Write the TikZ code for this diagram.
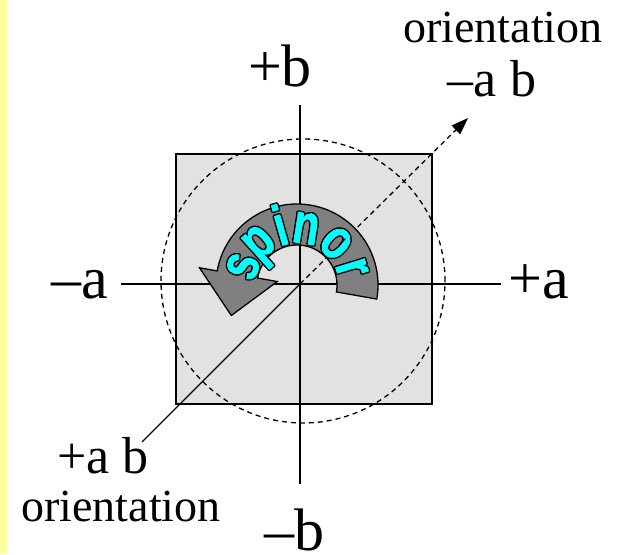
\documentclass[tikz,border=0pt]{standalone}
\usepackage{fontspec}
\setmainfont{Liberation Serif}
\newfontfamily\timesf{Liberation Serif}
\newfontfamily\spinfont{Liberation Sans}[BoldFeatures={FakeBold=1.5}]
\usetikzlibrary{arrows.meta,calc}
\definecolor{stripyellow}{RGB}{255,255,153}
\definecolor{boxgray}{RGB}{226,226,226}
\definecolor{ringgray}{RGB}{128,128,128}
\definecolor{spincyan}{RGB}{0,255,255}
\newcommand{\spinletter}[3]{%
  \foreach \dx/\dy [count=\k] in {1.4/0,-1.4/0,0/1.4,0/-1.4,1/1,-1/1,1/-1,-1/-1}{
    \node[rotate=#2-90, spinl, text=black] (#1k\k) at ($(RC)+(#2:42)+(\dx,\dy)$) {#3};
  }
  \node[rotate=#2-90, spinl, text=spincyan] (#1) at ($(RC)+(#2:42)$) {#3};
}
\begin{document}
\begin{tikzpicture}[x=1pt,y=1pt,
  axis/.style={line width=1.6pt},
  dashline/.style={line width=1.3pt, dash pattern=on 5pt off 4pt},
  lab/.style={inner sep=0pt, anchor=base, font=\timesf\fontsize{60}{60}\selectfont},
  smlab/.style={inner sep=0pt, anchor=base, font=\timesf\fontsize{52}{52}\selectfont},
  orlab/.style={inner sep=0pt, anchor=base, font=\timesf\fontsize{46}{46}\selectfont},
  spinl/.style={inner sep=0pt, anchor=base, font=\spinfont\bfseries\fontsize{57}{57}\selectfont, xscale=0.75}]
\useasboundingbox (0,0) rectangle (628,554);
\fill[white] (0,0) rectangle (628,554);
\fill[stripyellow] (0,0) rectangle (7,554);
% coordinates
\coordinate (O) at (300,270);
\coordinate (RC) at (297,269);
\coordinate (CC) at (303,273);
\coordinate (axL) at (121,270);
\coordinate (axR) at (501,270);
\coordinate (axT) at (300,449);
\coordinate (axB) at (300,70);
\coordinate (sqBL) at (176,150);
\coordinate (sqTR) at (432,400);
\coordinate (abEnd) at (142,112);
\coordinate (mabTip) at (468,436);
\coordinate (arrTip) at (231.3,238.5);
% square
\draw[line width=1.6pt, fill=boxgray] (sqBL) rectangle (sqTR);
% dashed circle
\draw[dashline] (CC) circle[radius=142];
% axes
\draw[axis] (axL) -- (axR);
\draw[axis] (axT) -- (axB);
% orientations
\draw[line width=1.4pt] (O) -- (abEnd);
\draw[dashline, -{Triangle[length=17pt,width=12pt]}] (O) -- (mabTip);
% spinor arrow
\draw[line width=1.3pt, fill=ringgray, line join=miter]
  ($(RC)+(-10:81)$) arc[start angle=-10, end angle=170, radius=81]
  -- ($(RC)+(170:99)$) -- (arrTip) -- ($(RC)+(170:20)$) -- ($(RC)+(170:40)$)
  arc[start angle=170, end angle=-10, radius=40] -- cycle;
\spinletter{ls}{161}{s}
\spinletter{lp}{132}{p}
\spinletter{li}{106}{i}
\spinletter{ln}{81}{n}
\spinletter{lo}{47}{o}
\spinletter{lr}{17}{r}
\draw[line width=1.3pt] ($(O)+(45:56)$) -- ($(O)+(45:64)$);
% labels
\node[lab] (pb) at (280,467) {+b};
\node[lab] (ma) at (80,255) {–a};
\node[lab] (pa) at (539,255) {+a};
\node[lab, text depth=0pt] (mb) at (294,4) {–b};
\node[orlab] (or1) at (503,511) {orientation};
\node[smlab] (mab) at (492,457) {–a b};
\node[smlab] (pab) at (103,80.5) {+a b};
\node[orlab] (or2) at (121,32.5) {orientation};
\end{tikzpicture}
\end{document}
